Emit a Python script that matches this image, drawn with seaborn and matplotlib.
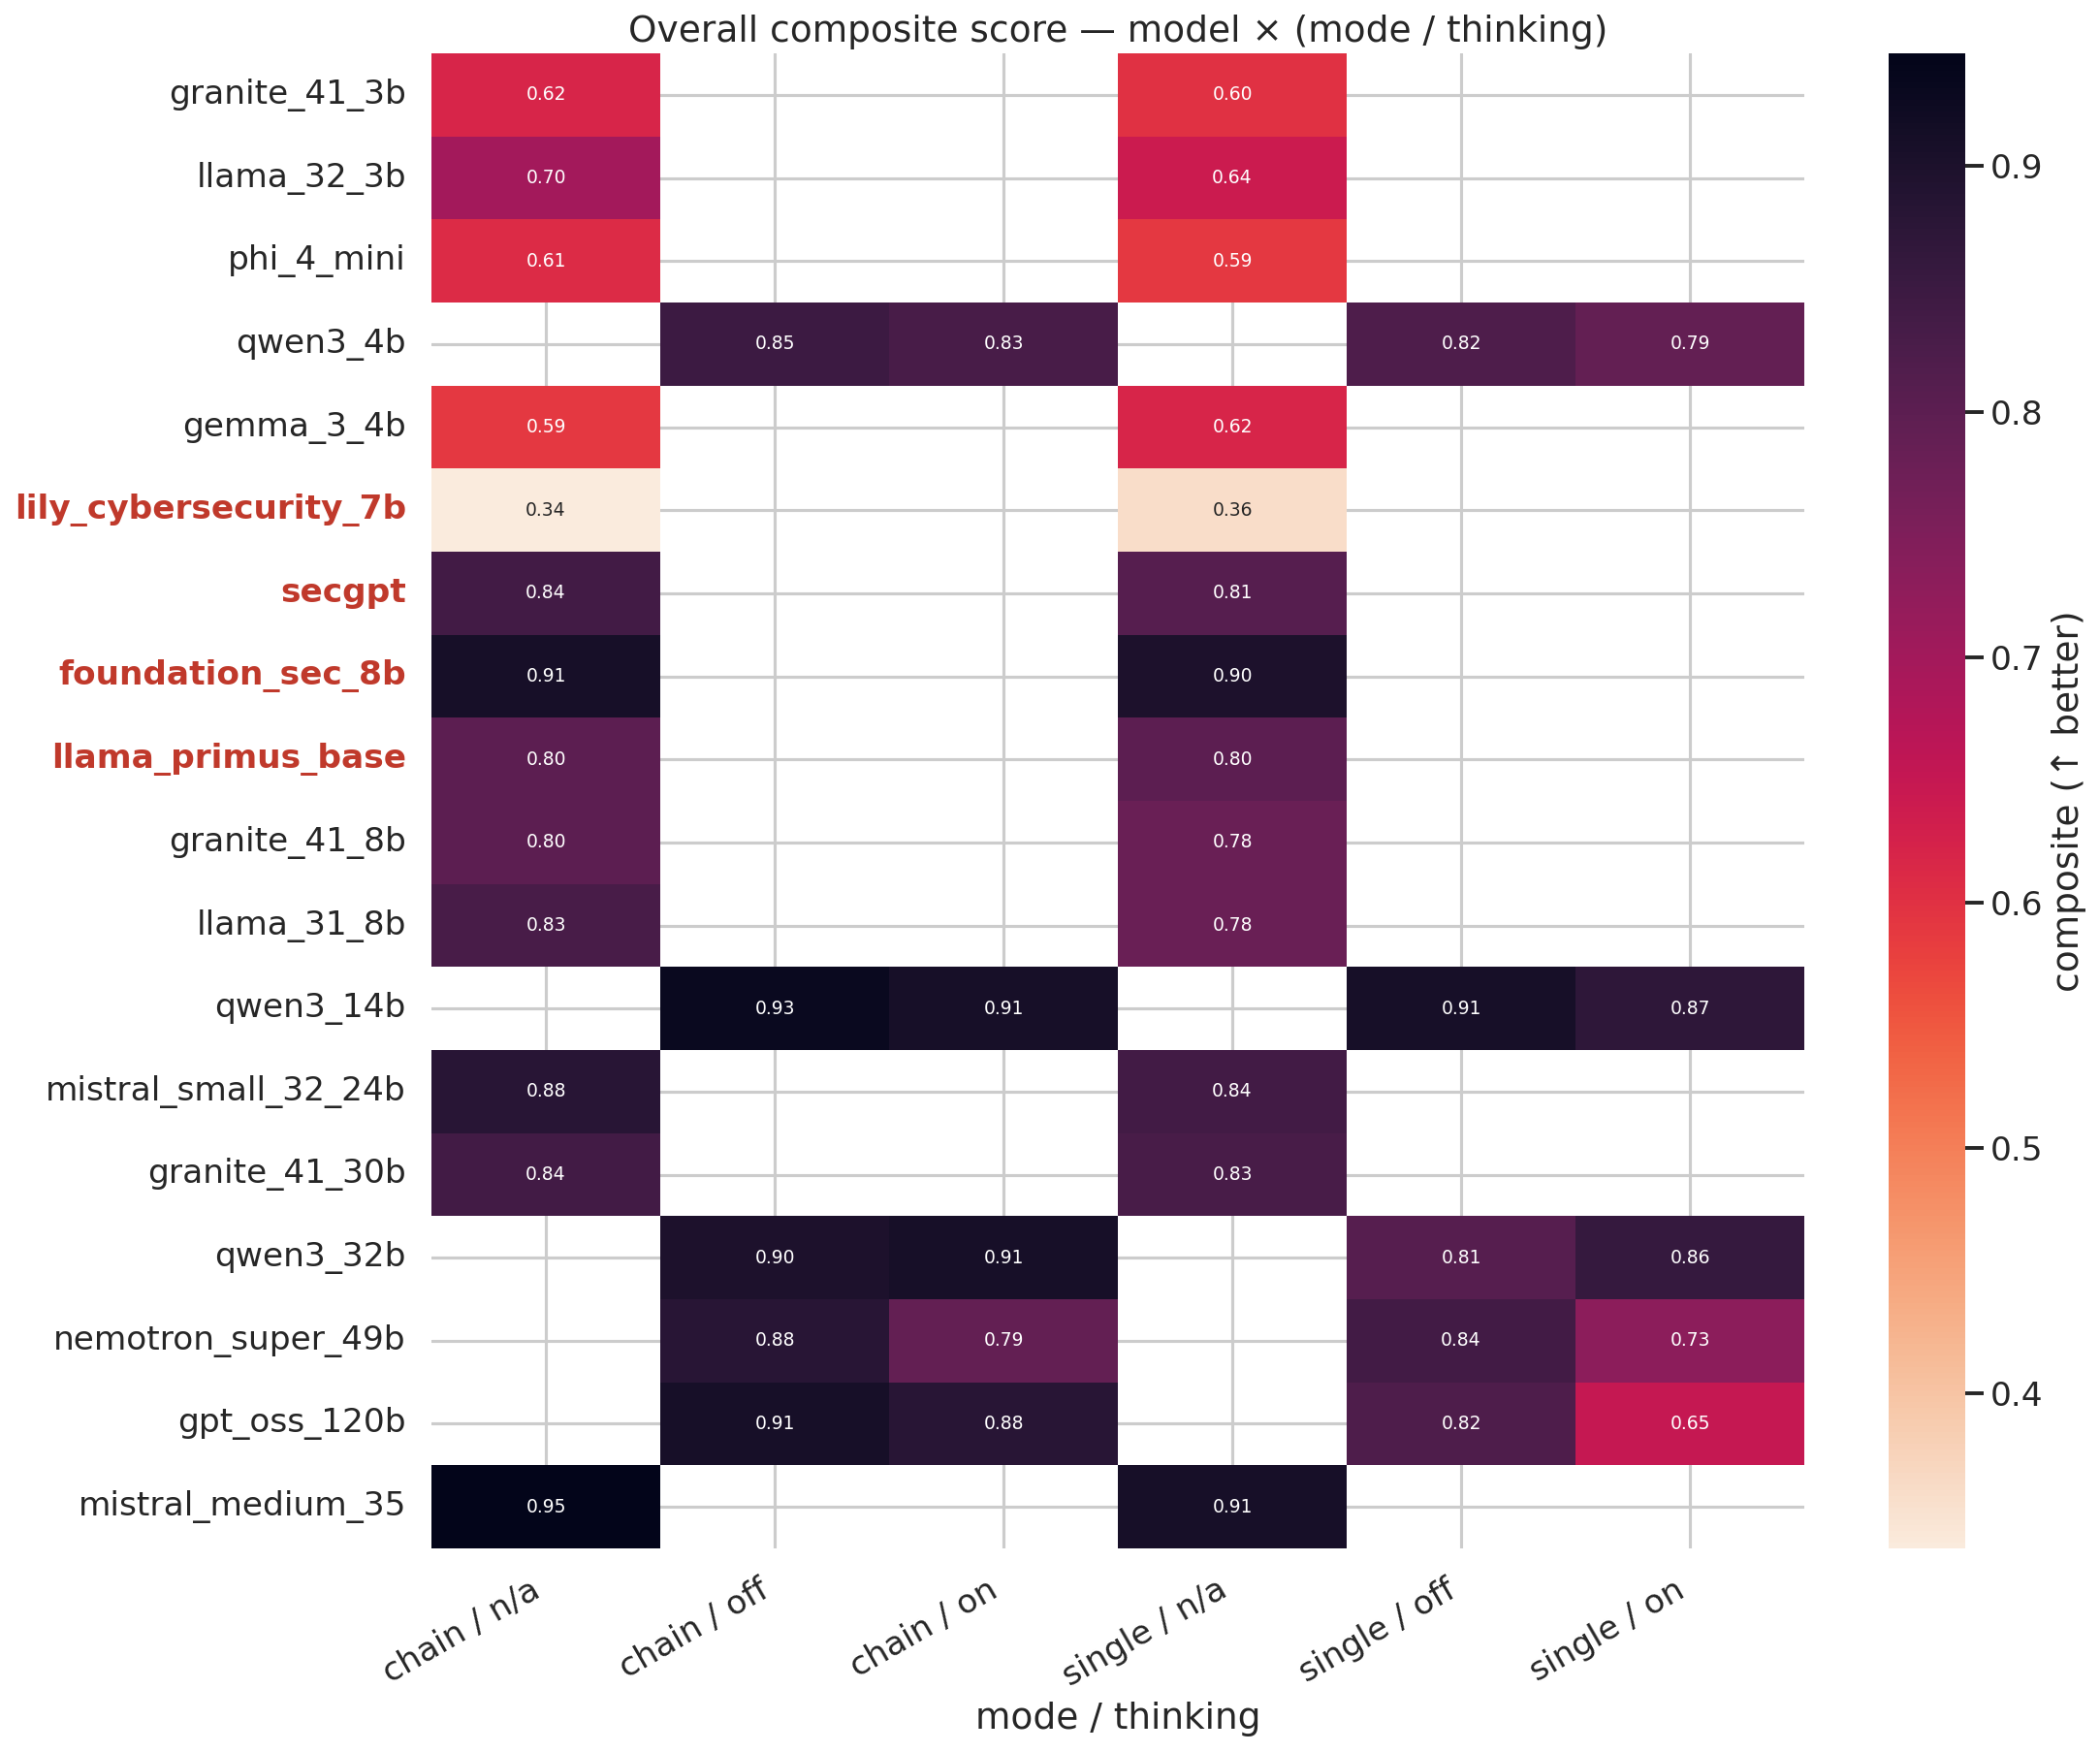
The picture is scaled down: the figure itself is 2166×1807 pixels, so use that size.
import numpy as np
import pandas as pd
import matplotlib
matplotlib.use("Agg")
import matplotlib.pyplot as plt
import seaborn as sns

models = ["granite_41_3b", "llama_32_3b", "phi_4_mini", "qwen3_4b", "gemma_3_4b",
          "lily_cybersecurity_7b", "secgpt", "foundation_sec_8b", "llama_primus_base",
          "granite_41_8b", "llama_31_8b", "qwen3_14b", "mistral_small_32_24b",
          "granite_41_30b", "qwen3_32b", "nemotron_super_49b", "gpt_oss_120b",
          "mistral_medium_35"]
columns = ["chain / n/a", "chain / off", "chain / on", "single / n/a", "single / off", "single / on"]

nan = np.nan
chain_na = [0.62, 0.70, 0.61, nan, 0.59, 0.337, 0.84, 0.91, 0.80, 0.80, 0.83, nan, 0.88, 0.84, nan, nan, nan, 0.946]
chain_off = [nan, nan, nan, 0.85, nan, nan, nan, nan, nan, nan, nan, 0.93, nan, nan, 0.90, 0.88, 0.91, nan]
chain_on = [nan, nan, nan, 0.83, nan, nan, nan, nan, nan, nan, nan, 0.91, nan, nan, 0.91, 0.79, 0.88, nan]
single_na = [0.60, 0.64, 0.59, nan, 0.62, 0.36, 0.81, 0.90, 0.80, 0.78, 0.78, nan, 0.84, 0.83, nan, nan, nan, 0.91]
single_off = [nan, nan, nan, 0.82, nan, nan, nan, nan, nan, nan, nan, 0.91, nan, nan, 0.81, 0.84, 0.82, nan]
single_on = [nan, nan, nan, 0.79, nan, nan, nan, nan, nan, nan, nan, 0.87, nan, nan, 0.86, 0.73, 0.65, nan]

highlight = ["lily_cybersecurity_7b", "secgpt", "foundation_sec_8b", "llama_primus_base"]

df = pd.DataFrame({c: v for c, v in zip(columns, [chain_na, chain_off, chain_on, single_na, single_off, single_on])},
                  index=models)

sns.set_theme(style="whitegrid", context="talk")

fig = plt.figure(figsize=(2166 / 150, 1807 / 150), dpi=150)
W, H = 2166, 1807
ax = fig.add_axes([445 / W, 1 - 1597 / H, (1861 - 445) / W, (1597 - 55) / H])
cax = fig.add_axes([1948 / W, 1 - 1597 / H, (2027 - 1948) / W, (1597 - 55) / H])

sns.heatmap(df, ax=ax, cbar_ax=cax, cmap="rocket_r", annot=True, fmt=".2f",
            annot_kws={"size": 9}, cbar_kws={"label": "composite (↑ better)"})

ax.set_title("Overall composite score — model × (mode / thinking)", fontsize=18)
ax.set_xlabel("mode / thinking", fontsize=18)
ax.set_ylabel("")
ax.set_xticklabels(ax.get_xticklabels(), rotation=30, ha="right")
ax.set_yticklabels(ax.get_yticklabels(), rotation=0)
for lbl in ax.get_yticklabels():
    if lbl.get_text() in highlight:
        lbl.set_color("#c0392b")
        lbl.set_fontweight("bold")

fig.savefig("out.png", dpi=150)
